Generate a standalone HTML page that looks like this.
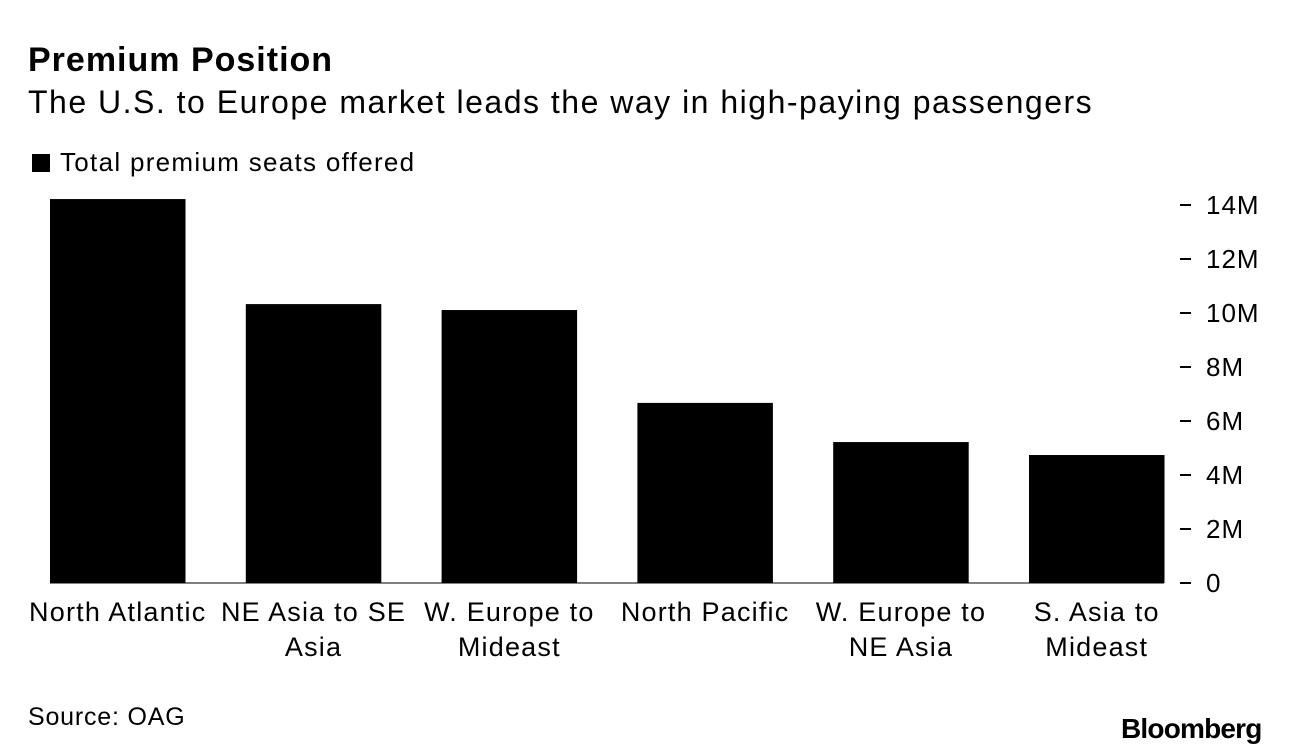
<!DOCTYPE html>
<html><head><meta charset="utf-8"><style>
body{margin:0;background:#fff;width:1289px;height:756px;overflow:hidden;font-family:"Liberation Sans",sans-serif;color:#000}
.t{position:absolute;white-space:nowrap}
</style></head><body>
<div class="t" style="left:28px;top:41px;font-size:34px;font-weight:bold;letter-spacing:1px">Premium Position</div>
<div class="t" style="left:28px;top:84px;font-size:32px;letter-spacing:1.5px">The U.S. to Europe market leads the way in high-paying passengers</div>
<div class="t" style="left:32px;top:147px;font-size:26px;letter-spacing:1.3px"><span style="display:inline-block;width:18px;height:18px;background:#000;margin-right:10px;vertical-align:-1px"></span>Total premium seats offered</div>
<svg id="c" width="1289" height="756" style="position:absolute;left:0;top:0"></svg>
<div class="t" style="left:28px;top:703px;font-size:25px;letter-spacing:0.8px">Source: OAG</div>
<div class="t" style="left:1121px;top:713px;font-size:28px;font-weight:bold;letter-spacing:-0.8px">Bloomberg</div>
<script>
const categories=[["North Atlantic"],["NE Asia to SE","Asia"],["W. Europe to","Mideast"],["North Pacific"],["W. Europe to","NE Asia"],["S. Asia to","Mideast"]];
const values=[14.22,10.33,10.11,6.67,5.22,4.74];
const ticks=[0,2,4,6,8,10,12,14];
const tickLabels=["0","2M","4M","6M","8M","10M","12M","14M"];
const svg=document.getElementById('c');const NS='http://www.w3.org/2000/svg';
const y0=583,pxPer=27,xStart=50,step=195.8,bw=135.5;
const y=v=>y0-v*pxPer;const x=i=>xStart+i*step;
function mk(t,a){const e=document.createElementNS(NS,t);for(const k in a)e.setAttribute(k,a[k]);svg.appendChild(e);return e;}
values.forEach((v,i)=>{
 const r=mk('rect',{x:x(i),y:y(v),width:bw,height:y0-y(v),fill:'#000'});
 
 
 categories[i].forEach((ln,j)=>{
  const t=mk('text',{x:x(i)+bw/2,y:621+j*35,'text-anchor':'middle','font-size':27,'letter-spacing':1.2,'font-family':'Liberation Sans, sans-serif'});
  t.textContent=ln;
  
  
 });
});
const base=mk('line',{x1:50,x2:1164,y1:y0,y2:y0,stroke:'#000','stroke-width':1});


ticks.forEach((v,i)=>{
 const l=mk('line',{x1:1180,x2:1191,y1:y(v),y2:y(v),stroke:'#000','stroke-width':2});
 
 
 const t=mk('text',{x:1206,y:y(v)+9,'font-size':26,'letter-spacing':1,'font-family':'Liberation Sans, sans-serif'});
 t.textContent=tickLabels[i];
 
 
});
</script>
</body></html>
